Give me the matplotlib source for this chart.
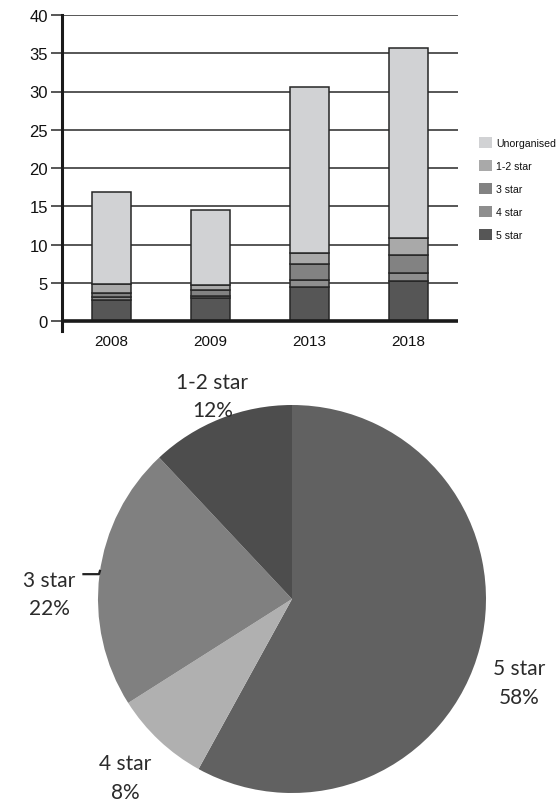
import matplotlib
matplotlib.use("Agg")
import matplotlib.pyplot as plt
from matplotlib.patches import Patch

# Room counts by hotel class (stacked bars)
years = ["2008", "2009", "2013", "2018"]
five_star = [2.8, 3.0, 4.5, 5.2]
four_star = [0.35, 0.25, 0.9, 1.1]
three_star = [0.45, 0.8, 2.0, 2.3]
one_two_star = [1.2, 0.65, 1.55, 2.2]
unorganised = [12.0, 9.85, 21.65, 24.9]
y_ticks = [0, 5, 10, 15, 20, 25, 30, 35, 40]

# Share of organised rooms (pie)
pie_labels = ["5 star", "4 star", "3 star", "1-2 star"]
pie_shares = [58, 8, 22, 12]

bar_series = [
    ("5 star", five_star, "#565656"),
    ("4 star", four_star, "#8e8e8e"),
    ("3 star", three_star, "#828282"),
    ("1-2 star", one_two_star, "#a9a9a9"),
    ("Unorganised", unorganised, "#d1d2d4"),
]
pie_colors = ["#616161", "#b0b0b0", "#808080", "#4d4d4d"]

W, H = 557, 803
fig = plt.figure(figsize=(W / 100, H / 100), dpi=100)
fig.patch.set_facecolor("white")

# ---------- stacked bar chart ----------
ax = fig.add_axes([62 / W, 1 - 332 / H, 396 / W, (332 - 16) / H])
ymin = -(332 - 322) / ((322 - 16) / 40)
x = [i + 0.5 for i in range(len(years))]
bottom = [0.0] * len(years)
handles = []
for name, vals, col in bar_series:
    ax.bar(x, vals, width=0.4, bottom=bottom, color=col,
           edgecolor="#262626", linewidth=1.1, zorder=3)
    bottom = [b + v for b, v in zip(bottom, vals)]
    handles.append(Patch(facecolor=col, edgecolor="none", label=name))

ax.set_xlim(0, len(years))
ax.set_ylim(ymin, 40)
ax.set_yticks(y_ticks)
ax.set_xticks(x)
ax.set_xticklabels(years)
for s in ["top", "right", "bottom"]:
    ax.spines[s].set_visible(False)
ax.spines["left"].set_linewidth(2.2)
ax.spines["left"].set_color("#1a1a1a")
for yv in y_ticks[1:]:
    ax.axhline(yv, color="#3a3a3a", linewidth=1.2, zorder=1)
ax.axhline(0, color="#1a1a1a", linewidth=2.6, zorder=4)
ax.tick_params(axis="y", direction="out", length=8, width=1.2, color="#3a3a3a",
               labelsize=12, pad=2, labelcolor="#111111")
ax.tick_params(axis="x", length=0, labelsize=11, pad=2, labelcolor="#111111")
for lab in ax.get_xticklabels() + ax.get_yticklabels():
    lab.set_fontfamily("Liberation Sans")

leg = ax.legend(handles=handles[::-1], loc="upper left",
                bbox_to_anchor=(479 / W, 1 - 138 / H), bbox_transform=fig.transFigure,
                frameon=False, fontsize=7.6, handlelength=1.2, handleheight=1.2,
                handletextpad=0.4, labelspacing=1.15, borderaxespad=0, borderpad=0)
for t in leg.get_texts():
    t.set_fontfamily("Liberation Sans")
    t.set_color("#111111")

# ---------- pie chart ----------
cx, cy, r = 292, 600, 194
pax = fig.add_axes([(cx - r) / W, 1 - (cy + r) / H, 2 * r / W, 2 * r / H])
pax.pie(pie_shares, colors=pie_colors, startangle=90, counterclock=False,
        radius=1.0, wedgeprops=dict(linewidth=0))
pax.set_xlim(-1, 1)
pax.set_ylim(-1, 1)
pax.set_aspect("equal")
pax.axis("off")

label_pos = {
    "1-2 star": (-0.41, 1.12),
    "3 star": (-1.25, 0.10),
    "5 star": (1.17, -0.355),
    "4 star": (-0.86, -0.845),
}
gap = 0.148
for name, share in zip(pie_labels, pie_shares):
    lx, ly = label_pos[name]
    pax.text(lx, ly, name, ha="center", va="center", fontsize=15,
             family="Lato", color="#2b2b2b", clip_on=False, zorder=5)
    pax.text(lx, ly - gap, f"{share}%", ha="center", va="center", fontsize=15,
             family="Lato", color="#2b2b2b", clip_on=False, zorder=5)

# leader for the 3 star label
pax.plot([-1.075, -0.995, -0.99], [0.128, 0.128, 0.145], color="#222222",
         linewidth=1.6, clip_on=False, zorder=5)

fig.savefig("out.png", dpi=100, facecolor="white")
